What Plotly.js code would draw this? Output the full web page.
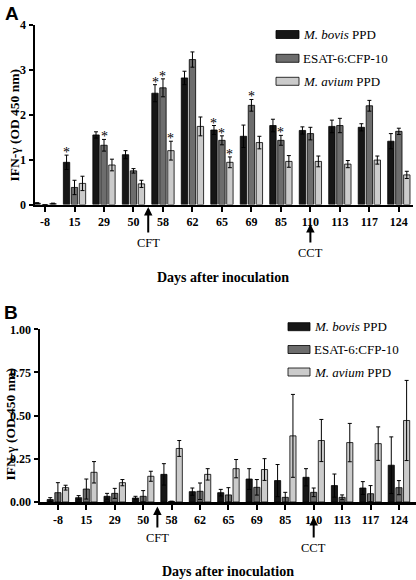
<!DOCTYPE html>
<html>
<head>
<meta charset="utf-8">
<script src="https://cdn.plot.ly/plotly-3.0.1.min.js"></script>
<style>html,body{margin:0;padding:0;background:#fff;}#chart{width:416px;height:580px;}</style>
</head>
<body>
<div id="chart"></div>
<script>
// ---- Data ----
const days = ['-8','15','29','50','58','62','65','69','85','110','113','117','124'];
const seriesNames = ['<i>M. bovis</i> PPD', 'ESAT-6:CFP-10', '<i>M. avium</i> PPD'];

// Panel A
const bovisA    = [0.03, 0.94, 1.55, 1.11, 2.48, 2.82, 1.66, 1.52, 1.76, 1.65, 1.74, 1.72, 1.41];
const bovisAErr = [0.01, 0.16, 0.07, 0.09, 0.19, 0.15, 0.10, 0.25, 0.14, 0.08, 0.14, 0.08, 0.17];
const esatA     = [0.00, 0.38, 1.32, 0.75, 2.60, 3.23, 1.43, 2.21, 1.43, 1.58, 1.76, 2.20, 1.63];
const esatAErr  = [0.00, 0.16, 0.13, 0.05, 0.20, 0.17, 0.10, 0.13, 0.11, 0.14, 0.16, 0.12, 0.07];
const aviumA    = [0.02, 0.47, 0.88, 0.46, 1.20, 1.74, 0.94, 1.38, 0.96, 0.96, 0.90, 0.99, 0.66];
const aviumAErr = [0.01, 0.16, 0.13, 0.08, 0.21, 0.21, 0.12, 0.14, 0.13, 0.12, 0.08, 0.09, 0.08];
// significance markers (1 = asterisk) in panel A
const bovisASig = [0,1,0,0,1,0,1,0,0,0,0,0,0];
const esatASig  = [0,0,1,0,1,0,1,1,1,0,0,0,0];
const aviumASig = [0,0,0,0,1,0,1,0,0,0,0,0,0];

// Panel B
const bovisB    = [0.014, 0.025, 0.033, 0.023, 0.160, 0.060, 0.054, 0.133, 0.124, 0.143, 0.095, 0.081, 0.213];
const bovisBErr = [0.011, 0.012, 0.017, 0.010, 0.062, 0.021, 0.019, 0.060, 0.093, 0.050, 0.067, 0.037, 0.164];
const esatB     = [0.054, 0.075, 0.050, 0.033, 0.003, 0.062, 0.041, 0.085, 0.027, 0.056, 0.027, 0.048, 0.083];
const esatBErr  = [0.058, 0.058, 0.029, 0.033, 0.002, 0.048, 0.042, 0.045, 0.029, 0.025, 0.014, 0.047, 0.041];
const aviumB    = [0.083, 0.172, 0.112, 0.149, 0.310, 0.160, 0.193, 0.188, 0.383, 0.356, 0.344, 0.338, 0.472];
const aviumBErr = [0.014, 0.062, 0.018, 0.029, 0.046, 0.033, 0.053, 0.063, 0.240, 0.122, 0.111, 0.097, 0.232];

// Events
const eventLabels = ['CFT', 'CCT'];
const eventPositions = [3.5, 9]; // between day 50 and 58; at day 110

// ---- Styling / layout ----
const W = 416, H = 580, ML = 35, MR = 0, MT = 25, MB = 78;
const px = x => (x - ML) / (W - ML - MR);
const py = y => (H - MB - y) / (H - MT - MB);
const colors = ['#161616', '#6d6d6d', '#cbcbcb'];
const serif = 'Liberation Serif, Times New Roman, serif';
const BARGAP = 0.19, GROUPGAP = 0.2;
const idx = days.map((d, i) => i);

function bar(y, err, j, xa, ya) {
  return {
    type: 'bar', x: idx, y: y, name: seriesNames[j], showlegend: false,
    xaxis: xa, yaxis: ya,
    marker: {color: colors[j], line: {color: '#000', width: 0.8}},
    error_y: {type: 'data', array: err, visible: true, color: '#000', thickness: 1, width: 2},
    hoverinfo: 'skip'
  };
}

const data = [
  bar(bovisA, bovisAErr, 0, 'x', 'y'),
  bar(esatA, esatAErr, 1, 'x', 'y'),
  bar(aviumA, aviumAErr, 2, 'x', 'y'),
  bar(bovisB, bovisBErr, 0, 'x2', 'y2'),
  bar(esatB, esatBErr, 1, 'x2', 'y2'),
  bar(aviumB, aviumBErr, 2, 'x2', 'y2')
];

const tickFont = {family: serif, size: 12, color: '#000', weight: 'bold'};
function xAxis(domain, range, anchor) {
  return {
    domain: domain, range: range, anchor: anchor, type: 'linear',
    tickmode: 'array', tickvals: idx, ticktext: days,
    showline: true, linewidth: 2.5, linecolor: '#000',
    ticks: 'outside', ticklen: 5, tickwidth: 2, tickcolor: '#000',
    tickfont: tickFont, showgrid: false, zeroline: false, fixedrange: true
  };
}
function yAxis(domain, range, dtick, fmt, anchor) {
  return {
    domain: domain, range: range, dtick: dtick, tick0: 0, tickformat: fmt, anchor: anchor,
    showline: true, linewidth: 2.5, linecolor: '#000',
    ticks: 'outside', ticklen: 4, tickwidth: 2, tickcolor: '#000',
    tickfont: tickFont, showgrid: false, zeroline: false, fixedrange: true
  };
}

const annotations = [];
const shapes = [];

// asterisks
const slot = (1 - BARGAP) / 3;
[[bovisA, bovisAErr, bovisASig], [esatA, esatAErr, esatASig], [aviumA, aviumAErr, aviumASig]].forEach((s, j) => {
  s[2].forEach((flag, i) => {
    if (!flag) return;
    annotations.push({
      xref: 'x', yref: 'y', x: i + (j - 1) * slot, y: s[0][i] + s[1][i],
      text: '*', showarrow: false, yanchor: 'bottom', xanchor: 'center', yshift: -7,
      font: {family: serif, size: 14, color: '#000000'}
    });
  });
});

// event arrows
function eventArrow(label, pos, xref, tipY, textY) {
  annotations.push({
    xref: xref, yref: 'paper', x: pos, y: py(tipY),
    text: label, showarrow: true, arrowhead: 2, arrowsize: 0.85, arrowwidth: 2,
    arrowcolor: '#000', ax: 0, ay: textY - tipY, startstandoff: 2,
    font: {family: serif, size: 12.5, color: '#000'}
  });
}
eventArrow(eventLabels[0], eventPositions[0], 'x', 207, 243);
eventArrow(eventLabels[1], eventPositions[1], 'x', 224, 253);
eventArrow(eventLabels[0], eventPositions[0], 'x2', 506.5, 538);
eventArrow(eventLabels[1], eventPositions[1], 'x2', 517, 548);

// axis titles
const titleFont = {family: serif, size: 14, color: '#000', weight: 'bold'};
const yTitleFont = {family: serif, size: 13.5, color: '#000', weight: 'bold'};
function textAt(text, x, y, font, extra) {
  annotations.push(Object.assign({
    xref: 'paper', yref: 'paper', x: px(x), y: py(y), text: text, showarrow: false,
    xanchor: 'center', yanchor: 'middle', font: font
  }, extra || {}));
}
textAt('IFN-γ (OD 450 nm)', 13.5, 126, yTitleFont, {textangle: -90});
textAt('IFN-γ (OD 450 nm)', 9.5, 425, yTitleFont, {textangle: -90});
textAt('Days after inoculation', 223, 277, titleFont);
textAt('Days after inoculation', 228, 571, titleFont);

// panel letters
const letterFont = {family: 'Liberation Sans, Arial, sans-serif', size: 19, color: '#000', weight: 'bold'};
textAt('A', 11.5, 14, letterFont);
textAt('B', 11, 312, letterFont);

// custom legends
function legend(x0, x1, rows) {
  rows.forEach((yc, j) => {
    shapes.push({
      type: 'rect', xref: 'paper', yref: 'paper',
      x0: px(x0), x1: px(x1), y0: py(yc + 4), y1: py(yc - 4),
      fillcolor: colors[j], line: {color: '#000', width: 0.8}
    });
    annotations.push({
      xref: 'paper', yref: 'paper', x: px(x1 + 2), y: py(yc), text: seriesNames[j],
      showarrow: false, xanchor: 'left', yanchor: 'middle',
      font: {family: serif, size: 13, color: '#000'}
    });
  });
}
legend(276, 299, [34.5, 58.3, 81.3]);
legend(288, 310, [326.7, 349.5, 372]);

const layout = {
  width: W, height: H,
  margin: {l: ML, r: MR, t: MT, b: MB, pad: 0},
  paper_bgcolor: '#fff', plot_bgcolor: '#fff',
  barmode: 'group', bargap: BARGAP, bargroupgap: GROUPGAP,
  showlegend: false,
  xaxis: xAxis([px(35), px(413)], [-0.34, 12.48], 'y'),
  yaxis: yAxis([py(204.5), 1], [0, 4], 1, 'd', 'x'),
  xaxis2: xAxis([px(40), 1], [-0.63, 12.6], 'y2'),
  yaxis2: yAxis([0, py(329.3)], [0, 1], 0.25, '.2f', 'x2'),
  annotations: annotations,
  shapes: shapes,
  font: {family: serif, color: '#000'}
};

Plotly.newPlot('chart', data, layout, {staticPlot: true, displayModeBar: false});
</script>
</body>
</html>
